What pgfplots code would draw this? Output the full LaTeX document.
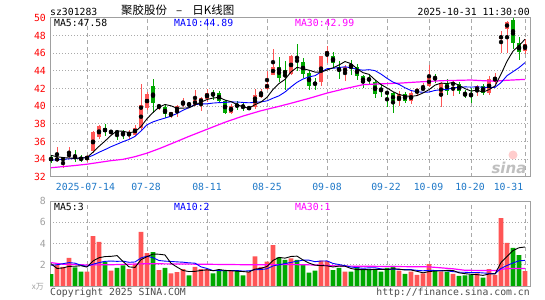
\documentclass[border=0pt]{standalone}
\usepackage{fontspec}
\setmonofont{DejaVu Sans Mono}
\newfontfamily\cjk{Noto Sans CJK SC}
\newfontfamily\wm{DejaVu Sans}
\usepackage{pgfplots}
\usepackage{pgfplotstable}
\pgfplotsset{compat=1.18}
\definecolor{upred}{HTML}{FF5555}
\definecolor{dngreen}{HTML}{00A800}
\definecolor{gridgray}{HTML}{AAAAAA}
\definecolor{framegray}{HTML}{A0A0A0}
\definecolor{datebl}{HTML}{1E78C8}
\definecolor{mapink}{HTML}{FF00FF}
\definecolor{mablue}{HTML}{0000FF}
\newcommand{\tf}{\ttfamily\fontsize{9.8bp}{10bp}\selectfont}

\pgfplotstableread{
i o h l c v m5 m10 vm5 vm10
0 34.23 34.45 33.58 33.85 1.12 34.45 33.90 2.10 1.95
1 33.85 35.40 33.74 34.15 2.00 34.30 33.95 1.65 2.00
2 34.00 34.15 33.00 34.05 1.80 34.20 34.00 1.70 2.10
3 34.45 35.40 34.10 34.50 2.65 34.15 34.05 1.85 2.20
4 34.40 35.00 33.70 34.10 1.75 34.13 34.10 1.86 2.15
5 34.15 34.50 33.65 33.95 1.35 34.15 34.15 1.91 1.95
6 33.95 34.50 33.75 34.40 1.35 34.20 34.20 1.78 1.85
7 34.90 37.17 34.70 37.10 4.70 34.81 34.45 2.36 2.05
8 36.50 37.85 36.30 37.80 4.15 35.47 34.80 2.66 2.20
9 37.55 38.00 36.60 37.10 2.30 36.07 35.10 2.77 2.32
10 37.10 37.35 36.80 37.15 1.45 36.71 35.43 2.79 2.35
11 37.20 37.30 36.20 36.95 1.70 37.22 35.71 2.86 2.32
12 37.00 37.30 36.35 36.90 1.95 37.18 36.00 2.31 2.34
13 36.80 37.30 36.35 37.00 1.60 37.02 36.25 1.80 2.23
14 36.80 37.85 36.60 37.60 2.05 37.12 36.60 1.75 2.26
15 37.55 42.50 37.20 40.10 5.10 37.71 37.21 2.48 2.64
16 39.80 41.60 39.60 41.40 3.10 38.60 37.91 2.76 2.81
17 42.25 43.10 39.30 40.40 3.20 39.30 38.24 3.01 2.66
18 40.00 40.30 39.60 40.05 1.50 39.91 38.47 2.99 2.40
19 39.90 40.10 38.70 39.10 1.70 40.21 38.67 2.92 2.34
20 38.90 39.40 38.70 39.35 1.20 40.06 38.89 2.14 2.31
21 39.45 40.10 38.75 40.00 1.30 39.78 39.19 1.78 2.27
22 40.10 40.95 39.90 40.50 1.60 39.80 39.55 1.46 2.24
23 40.30 40.50 39.85 40.20 1.00 39.83 39.87 1.36 2.18
24 40.10 41.90 40.00 40.75 1.80 40.16 40.19 1.38 2.15
25 40.40 41.00 39.50 40.90 1.60 40.47 40.27 1.46 1.80
26 40.80 42.00 40.50 41.50 1.60 40.77 40.28 1.52 1.65
27 41.45 41.90 40.75 41.35 1.20 40.94 40.37 1.44 1.45
28 41.50 41.70 40.40 40.55 1.55 41.01 40.42 1.55 1.46
29 40.55 40.75 39.15 39.25 1.40 40.71 40.44 1.47 1.43
30 39.25 40.25 39.15 40.00 1.45 40.53 40.50 1.44 1.45
31 40.25 40.60 39.60 39.90 1.40 40.21 40.49 1.40 1.46
32 40.05 40.40 39.45 39.95 1.00 39.93 40.44 1.36 1.40
33 39.75 40.00 39.60 39.85 1.30 39.79 40.40 1.31 1.43
34 39.90 42.00 39.75 41.25 2.80 40.19 40.45 1.59 1.53
35 41.05 42.00 40.95 41.50 1.80 40.49 40.51 1.66 1.55
36 42.00 44.05 41.90 42.55 2.30 41.02 40.62 1.84 1.62
37 43.60 46.50 43.50 44.40 3.85 41.91 40.92 2.41 1.89
38 44.40 45.55 42.80 43.20 2.70 42.58 41.19 2.69 2.00
39 44.15 45.10 41.90 43.60 2.45 43.05 41.62 2.62 2.11
40 43.65 45.85 43.50 45.75 2.60 43.90 42.20 2.78 2.22
41 45.20 47.05 43.95 45.10 2.45 44.41 42.72 2.81 2.33
42 45.00 45.50 43.20 43.65 2.05 44.26 43.09 2.45 2.43
43 43.75 44.05 41.90 42.35 1.25 44.09 43.34 2.16 2.43
44 42.60 43.20 41.90 42.55 1.45 43.88 43.47 1.96 2.29
45 42.80 45.75 42.30 45.75 2.40 43.88 43.89 1.92 2.35
46 45.80 46.80 44.90 46.25 2.35 44.11 44.26 1.90 2.36
47 45.75 46.10 44.35 44.90 1.50 44.36 44.31 1.79 2.12
48 44.40 45.15 43.10 43.95 1.70 44.68 44.39 1.88 2.02
49 43.75 44.70 42.85 44.50 1.35 45.07 44.48 1.86 1.91
50 44.65 45.30 43.60 44.55 1.35 44.83 44.36 1.65 1.79
51 44.50 44.80 43.00 43.40 1.80 44.26 44.19 1.54 1.72
52 43.40 43.50 42.10 42.65 1.55 43.81 44.09 1.55 1.67
53 43.05 43.60 42.55 43.00 1.60 43.62 44.15 1.53 1.71
54 42.75 43.00 40.95 41.40 1.55 43.00 44.04 1.57 1.72
55 41.95 42.55 41.10 41.85 1.35 42.46 43.65 1.57 1.61
56 41.55 41.70 39.90 41.50 1.70 42.08 43.17 1.55 1.55
57 41.50 41.60 39.30 40.55 1.90 41.66 42.74 1.62 1.59
58 40.55 41.70 40.00 41.40 1.45 41.34 42.48 1.59 1.56
59 41.40 41.60 40.40 40.65 1.15 41.19 42.10 1.51 1.54
60 40.55 41.70 40.25 41.50 1.35 41.12 41.79 1.51 1.54
61 41.50 42.10 41.20 42.00 1.05 41.22 41.65 1.38 1.47
62 41.95 42.65 41.70 42.00 1.20 41.51 41.59 1.24 1.43
63 42.25 44.65 42.15 43.30 2.05 41.89 41.62 1.36 1.48
64 43.25 43.65 42.65 43.20 1.40 42.40 41.80 1.41 1.46
65 41.15 42.75 39.90 42.65 1.35 42.63 41.88 1.41 1.46
66 42.65 43.15 41.30 41.75 1.35 42.58 41.90 1.47 1.43
67 42.50 42.85 41.15 42.60 1.15 42.70 42.11 1.46 1.35
68 42.50 42.75 41.40 41.70 0.95 42.38 42.14 1.24 1.30
69 41.35 41.90 40.95 41.30 1.00 42.00 42.20 1.16 1.29
70 41.35 42.10 40.40 41.30 1.05 41.73 42.18 1.10 1.26
71 41.75 42.45 41.15 42.25 1.20 41.83 42.21 1.07 1.27
72 42.25 42.55 41.30 41.50 0.80 41.61 42.16 1.00 1.23
73 41.50 43.40 41.25 43.10 1.60 41.89 42.14 1.13 1.19
74 42.75 43.75 42.50 43.35 1.05 42.30 42.15 1.14 1.15
75 47.65 48.50 46.05 48.00 6.40 43.64 42.69 2.21 1.66
76 48.70 49.65 46.00 49.60 4.05 45.11 43.47 2.78 1.93
77 49.80 50.00 46.50 47.20 3.60 46.25 43.93 3.34 2.17
78 47.15 47.85 45.30 46.20 2.90 46.87 44.38 3.60 2.37
79 46.25 47.60 45.95 47.00 1.40 47.60 44.95 3.67 2.41
}\kline

\pgfplotstableread{
i m
0 33.05
4 33.30
6 33.45
8 33.65
10 33.85
12 34.00
14 34.30
16 34.70
18 35.20
20 35.75
23 36.60
26 37.40
29 38.20
32 38.90
35 39.50
38 40.00
40 40.35
43 40.90
46 41.50
49 42.00
52 42.45
55 42.55
58 42.62
61 42.75
65 42.90
70 42.98
72 42.90
74 42.85
76 42.95
79 43.05
}\maprice

\pgfplotstableread{
i m
0 2.20
2 2.05
6 1.98
10 2.00
16 2.10
25 2.05
33 2.00
40 2.02
44 1.98
48 1.88
56 1.84
63 1.80
67 1.62
69 1.48
74 1.45
75 1.55
76 1.65
79 1.65
}\mavol

\pgfplotsset{
  kaxis/.style={
    scale only axis, width=480bp,
    xmin=-0.167, xmax=79.83,
    axis line style={framegray, line width=1bp},
    major tick length=0pt,
    xtick={6,16,26,36,46,56,63,70,79}, xticklabels={},
    xmajorgrids, ymajorgrids,
    major x grid style={gridgray, line width=1bp, dash pattern=on 4bp off 3bp},
    major y grid style={gridgray, line width=1bp, dash pattern=on 1bp off 2bp},
    yticklabel style={font=\tf, inner sep=0pt, xshift=-4bp},
    /pgf/number format/assume math mode=true,
    unbounded coords=discard,
  },
  upwick/.style={only marks, mark=none, error bars/.cd, y dir=both, y explicit, error mark=none, error bar style={line width=1bp, draw=upred}},
  dnwick/.style={only marks, mark=none, error bars/.cd, y dir=both, y explicit, error mark=none, error bar style={line width=1bp, draw=dngreen}},
  upbody/.style={only marks, mark=none, error bars/.cd, y dir=both, y explicit, error mark=none, error bar style={line width=4.8bp, draw=upred}},
  dnbody/.style={only marks, mark=none, error bars/.cd, y dir=both, y explicit, error mark=none, error bar style={line width=4.8bp, draw=dngreen}},
}

\begin{document}
\begin{tikzpicture}
\fill[white] (0bp,0bp) rectangle (545bp,300bp);

% ---------- price panel ----------
\begin{axis}[kaxis, name=price, at={(50bp,123bp)}, anchor=south west, height=159bp,
  ymin=32, ymax=50, ytick={32,34,...,50}, yticklabel style={text=red}]
\addplot[upwick] table[x=i, y expr={\thisrow{c}>=\thisrow{o} ? (\thisrow{h}+\thisrow{l})/2 : nan}, y error expr={(\thisrow{h}-\thisrow{l})/2}] {\kline};
\addplot[dnwick] table[x=i, y expr={\thisrow{c}<\thisrow{o} ? (\thisrow{h}+\thisrow{l})/2 : nan}, y error expr={(\thisrow{h}-\thisrow{l})/2}] {\kline};
\addplot[upbody] table[x=i, y expr={\thisrow{c}>=\thisrow{o} ? (\thisrow{c}+\thisrow{o})/2 : nan}, y error expr={max(abs(\thisrow{c}-\thisrow{o})/2,0.06)}] {\kline};
\addplot[dnbody] table[x=i, y expr={\thisrow{c}<\thisrow{o} ? (\thisrow{c}+\thisrow{o})/2 : nan}, y error expr={max(abs(\thisrow{c}-\thisrow{o})/2,0.06)}] {\kline};
\addplot[mapink, line width=1.2bp] table[x=i, y=m] {\maprice};
\addplot[mablue, line width=0.9bp] table[x=i, y=m10] {\kline};
\addplot[black, line width=0.9bp] table[x=i, y=m5] {\kline};
\end{axis}

% ---------- volume panel ----------
\begin{axis}[kaxis, name=vol, at={(50bp,14bp)}, anchor=south west, height=85bp,
  ymin=0, ymax=8, ytick={0,2,4,6,8}, yticklabels={,2,4,6,8}, yticklabel style={text=framegray}]
\addplot[ybar, bar width=4.8bp, bar shift=0pt, fill=upred, draw=none] table[x=i, y expr={\thisrow{c}>=\thisrow{o} ? \thisrow{v} : nan}] {\kline};
\addplot[ybar, bar width=4.8bp, bar shift=0pt, fill=dngreen, draw=none] table[x=i, y expr={\thisrow{c}<\thisrow{o} ? \thisrow{v} : nan}] {\kline};
\addplot[mapink, line width=1.2bp] table[x=i, y=m] {\mavol};
\addplot[mablue, line width=0.9bp] table[x=i, y=vm10] {\kline};
\addplot[black, line width=0.9bp] table[x=i, y=vm5] {\kline};
\end{axis}

% ---------- texts ----------
\begin{scope}[x=1bp, y=1bp]
\node[anchor=base west, inner sep=0pt] at (50,285) {\tf sz301283};
\node[anchor=base west, inner sep=0pt] at (121,286) {\cjk\fontsize{11.5bp}{12bp}\selectfont 聚胶股份\hspace{9bp}–\hspace{10bp}日K线图};
\node[anchor=base east, inner sep=0pt] at (530,285) {\tf 2025-10-31 11:30:00};

\node[anchor=base west, inner sep=0pt] at (54,273.3) {\tf MA5:47.58};
\node[anchor=base west, inner sep=0pt, text=mablue] at (174,273.3) {\tf MA10:44.89};
\node[anchor=base west, inner sep=0pt, text=mapink] at (295,273.3) {\tf MA30:42.99};

\node[anchor=base west, inner sep=0pt] at (54,90) {\tf MA5:3};
\node[anchor=base west, inner sep=0pt, text=mablue] at (174,90) {\tf MA10:2};
\node[anchor=base west, inner sep=0pt, text=mapink] at (295,90) {\tf MA30:1};

\foreach \xx/\lab in {85.5/2025-07-14, 146/07-28, 207/08-11, 267/08-25, 327/09-08, 386/09-22, 428.5/10-09, 470/10-20, 508.5/10-31}
  \node[anchor=base, inner sep=0pt, text=datebl] at (\xx,110) {\tf \lab};

\node[anchor=base east, inner sep=0pt, text=framegray] at (44,11) {\cjk\fontsize{8bp}{9bp}\selectfont x万};
\node[anchor=base west, inner sep=0pt, text=black!70] at (50,4.7) {\tf Copyright 2025 SINA.COM};
\node[anchor=base east, inner sep=0pt, text=black!70] at (530,4.7) {\tf http://finance.sina.com.cn};

\node[inner sep=0pt, text=black!25] at (509,132) {\wm\bfseries\itshape\fontsize{15bp}{15bp}\selectfont sina};
\fill[red!20] (513,145) circle (4.5);
\end{scope}
\pgfresetboundingbox
\useasboundingbox (0bp,0bp) rectangle (545bp,300bp);
\end{tikzpicture}
\end{document}
